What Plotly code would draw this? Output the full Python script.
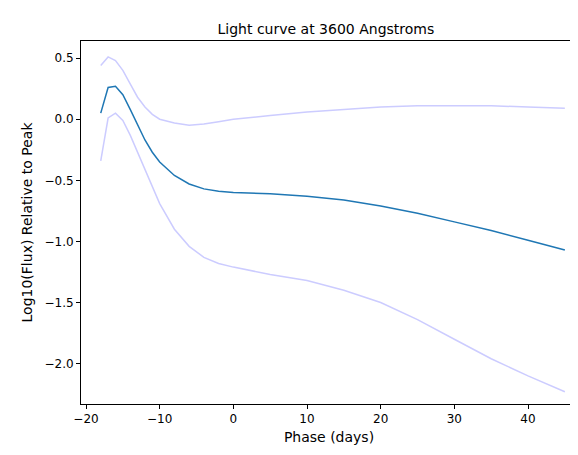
import plotly.graph_objects as go

phase = [-18, -17, -16, -15, -14, -13, -12, -11, -10, -8, -6, -4, -2, 0, 5, 10, 15, 20, 25, 30, 35, 40, 45]
mean_flux = [0.05, 0.26, 0.27, 0.20, 0.08, -0.05, -0.17, -0.27, -0.35, -0.46, -0.53, -0.57, -0.59, -0.60,
             -0.61, -0.63, -0.66, -0.71, -0.77, -0.84, -0.91, -0.99, -1.07]
upper_flux = [0.44, 0.51, 0.48, 0.40, 0.29, 0.18, 0.10, 0.04, 0.00, -0.03, -0.05, -0.04, -0.02, 0.00,
              0.03, 0.06, 0.08, 0.10, 0.11, 0.11, 0.11, 0.10, 0.09]
lower_flux = [-0.34, 0.01, 0.05, -0.01, -0.13, -0.27, -0.42, -0.56, -0.69, -0.90, -1.04, -1.13, -1.18, -1.21,
              -1.27, -1.32, -1.40, -1.50, -1.64, -1.80, -1.96, -2.10, -2.23]

band = dict(color="#ccccff", width=1.5)
fig = go.Figure()
fig.add_trace(go.Scatter(x=phase, y=upper_flux, mode="lines", line=band))
fig.add_trace(go.Scatter(x=phase, y=lower_flux, mode="lines", line=band))
fig.add_trace(go.Scatter(x=phase, y=mean_flux, mode="lines", line=dict(color="#1f77b4", width=1.5)))

axis = dict(showgrid=False, zeroline=False, showline=True, linecolor="black", linewidth=1, mirror=True,
            ticks="outside", ticklen=4, tickcolor="black", tickfont=dict(size=12), automargin=False)
fig.update_layout(
    width=578, height=455, showlegend=False, template="none",
    paper_bgcolor="white", plot_bgcolor="white",
    font=dict(family="DejaVu Sans", color="black", size=12),
    margin=dict(l=73, r=9, t=33, b=59),
    title=dict(text="Light curve at 3600 Angstroms", x=0.55, xanchor="center", y=0.965, font=dict(size=14)),
    xaxis=dict(axis, range=[-20.68, 46.65], dtick=10, title=dict(text="Phase (days)", standoff=6)),
    yaxis=dict(axis, range=[-2.33, 0.64], dtick=0.5, tickformat=".1f", title=dict(text="Log10(Flux) Relative to Peak", standoff=8)),
)
fig.write_html("out.html")
